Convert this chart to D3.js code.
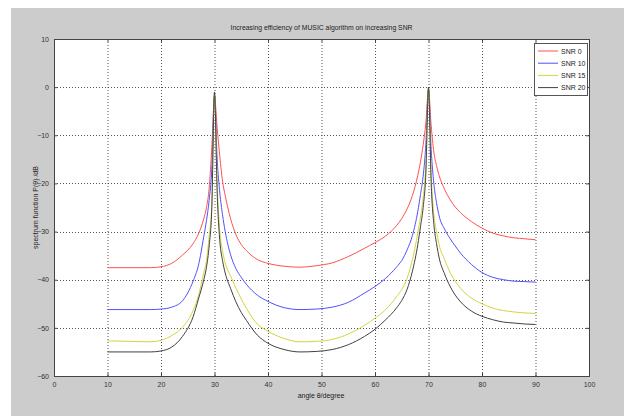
<!DOCTYPE html>
<html><head><meta charset="utf-8">
<script src="https://cdn.jsdelivr.net/npm/d3@7/dist/d3.min.js"></script>
<style>html,body{margin:0;padding:0;background:#fff;}svg{display:block;font-family:"Liberation Sans",Arial,sans-serif;}</style>
</head><body>
<svg id="chart" width="624" height="419"></svg>
<script>
const title = "Increasing efficiency of MUSIC algorithm on increasing SNR";
const xLabel = "angle θ/degree";
const yLabel = "spectrum function P(θ) /dB";
const xTicks = [0,10,20,30,40,50,60,70,80,90,100];
const yTicks = [-60,-50,-40,-30,-20,-10,0,10];
const seriesNames = ["SNR 0","SNR 10","SNR 15","SNR 20"];
const seriesColors = ["#ff5050","#5050ff","#d4d440","#404040"];

const angles = [10,14,18,20,22,24,26,27,28,28.5,29,29.5,30,30.5,31,31.5,32,33,34,35,36,38,40,43,46,49,52,55,58,60,62,64,65,66,67,68,68.5,69,69.5,70,70.5,71,71.5,72,73,74,75,76,78,80,82,84,86,88,90];

const snr0  = [-37.5,-37.5,-37.5,-37.3,-36.6,-34.9,-32.5,-30.5,-27.3,-25,-21,-12.5,-2,-8.5,-14.5,-19.5,-22.5,-27.3,-30.6,-32.7,-34,-35.8,-36.6,-37.2,-37.4,-37.1,-36.5,-35.2,-33.5,-32.3,-30.9,-28.8,-27.3,-25.3,-22.5,-18.3,-15.5,-12,-7.5,-0.6,-8,-13.5,-16.3,-18.4,-21.2,-23.3,-24.9,-26.1,-27.9,-29.3,-30.3,-30.9,-31.3,-31.5,-31.7];
const snr10 = [-46.2,-46.2,-46.2,-46.1,-45.7,-44.4,-40.3,-37,-31,-27.7,-23.5,-17,-1.8,-15,-22,-26.5,-30,-34.8,-37.7,-39.5,-41,-43.2,-44.5,-45.8,-46.2,-46.1,-45.7,-44.7,-42.8,-41.4,-39.7,-37.4,-36,-33.8,-30.8,-25.8,-22.3,-18.5,-12,-0.5,-13,-20,-24,-26.8,-29.5,-31.4,-33,-34.5,-36.8,-38.5,-39.5,-40,-40.3,-40.4,-40.5];
const snr15 = [-52.7,-52.8,-52.9,-52.6,-51.6,-49.9,-46.4,-43.3,-38.5,-36,-31,-24,-1.5,-20,-30,-34,-36.5,-39.2,-41.7,-44,-46,-49.2,-50.7,-52.2,-52.9,-52.8,-52.4,-51.3,-49.5,-48,-46.2,-43.6,-42,-39.7,-35.8,-30.3,-27,-23,-16,-0.3,-18,-26.5,-30,-32.8,-35.8,-38.4,-40.3,-41.8,-43.8,-45,-45.9,-46.4,-46.7,-46.9,-47];
const snr20 = [-55,-55,-55,-54.8,-54,-51.8,-47.7,-44,-40,-37.4,-33,-25,-1,-22,-32,-36,-38.6,-41.8,-44.6,-46.8,-48.5,-51.5,-53.2,-54.5,-55,-54.9,-54.5,-53.5,-51.8,-50.3,-48.3,-45.9,-44.3,-42,-38.2,-32.7,-29,-25,-18,0,-20,-28.5,-32.5,-35.5,-38.8,-41.3,-43.2,-44.6,-46.5,-47.6,-48.3,-48.8,-49,-49.2,-49.3];
const seriesValues = [snr0, snr10, snr15, snr20];

const svg = d3.select("#chart");
const W = 624, H = 419;
const m = {left:54, right:589, top:39, bottom:376};

// figure background
svg.append("rect").attr("x",11).attr("y",8).attr("width",W-11).attr("height",408).attr("fill","#cccccc");

const x = d3.scaleLinear().domain([0,100]).range([m.left,m.right]);
const y = d3.scaleLinear().domain([-60,10]).range([m.bottom,m.top]);

svg.append("rect").attr("x",m.left).attr("y",m.top).attr("width",m.right-m.left).attr("height",m.bottom-m.top).attr("fill","#fff");

// grid
const g = svg.append("g");
g.selectAll(".vg").data(xTicks.slice(1,-1)).join("line")
  .attr("x1",d=>x(d)+0.5).attr("x2",d=>x(d)+0.5).attr("y1",m.top).attr("y2",m.bottom)
  .attr("stroke","#555").attr("stroke-width",1).attr("stroke-dasharray","1,2");
g.selectAll(".hg").data(yTicks.slice(1,-1)).join("line")
  .attr("y1",d=>Math.round(y(d))+0.5).attr("y2",d=>Math.round(y(d))+0.5).attr("x1",m.left).attr("x2",m.right)
  .attr("stroke","#555").attr("stroke-width",1).attr("stroke-dasharray","1,2");

// lines
const line = d3.line().x((d,i)=>x(angles[i])).y(d=>y(d)).curve(d3.curveMonotoneX);
seriesValues.forEach((vals,k)=>{
  svg.append("path").datum(vals).attr("d",line).attr("fill","none")
    .attr("stroke",seriesColors[k]).attr("stroke-width",1);
});

// axes
const xAxisB = d3.axisBottom(x).tickValues(xTicks).tickSize(-3).tickPadding(6);
const xAxisT = d3.axisTop(x).tickValues(xTicks).tickSize(-3).tickFormat("");
const yAxisL = d3.axisLeft(y).tickValues(yTicks).tickSize(-3).tickPadding(5);
const yAxisR = d3.axisRight(y).tickValues(yTicks).tickSize(-3).tickFormat("");
function styleAxis(sel){
  sel.selectAll("path").attr("stroke","#444");
  sel.selectAll("line").attr("stroke","#444");
  sel.selectAll("text").attr("fill","#333").style("font-size","7px").style("font-family","'Liberation Sans',Arial,sans-serif");
}
svg.append("g").attr("transform",`translate(0,${m.bottom})`).call(xAxisB).call(styleAxis);
svg.append("g").attr("transform",`translate(0,${m.top})`).call(xAxisT).call(styleAxis);
svg.append("g").attr("transform",`translate(${m.left},0)`).call(yAxisL).call(styleAxis);
svg.append("g").attr("transform",`translate(${m.right},0)`).call(yAxisR).call(styleAxis);
svg.selectAll(".domain").attr("stroke","#444");

// title & labels
svg.append("text").attr("x",(m.left+m.right)/2).attr("y",30).attr("text-anchor","middle")
  .style("font-size","7px").attr("fill","#222").attr("textLength",182).attr("lengthAdjust","spacingAndGlyphs").text(title);
svg.append("text").attr("x",321).attr("y",398).attr("text-anchor","middle")
  .style("font-size","7px").attr("fill","#222").text(xLabel);
svg.append("text").attr("transform",`translate(38,${(m.top+m.bottom)/2}) rotate(-90)`).attr("text-anchor","middle")
  .style("font-size","7px").attr("fill","#222").text(yLabel);

// legend
const lg = svg.append("g");
lg.append("rect").attr("x",534.5).attr("y",43.5).attr("width",53).attr("height",52)
  .attr("fill","#fff").attr("stroke","#555").attr("stroke-width",1);
seriesNames.forEach((n,k)=>{
  const yy = 51 + k*12.2;
  lg.append("line").attr("x1",538).attr("x2",558).attr("y1",yy).attr("y2",yy).attr("stroke",seriesColors[k]).attr("stroke-width",1);
  lg.append("text").attr("x",561).attr("y",yy+2.5).style("font-size","7px").attr("fill","#222").text(n);
});
</script>
</body></html>
